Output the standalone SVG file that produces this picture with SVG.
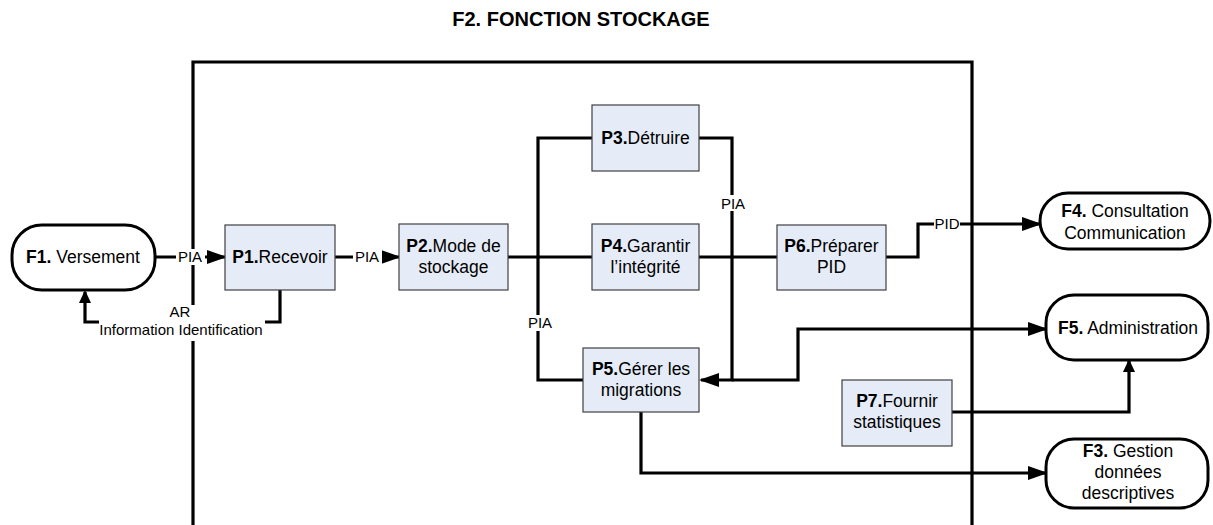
<svg xmlns="http://www.w3.org/2000/svg" width="1213" height="525" viewBox="0 0 1213 525">
<style>
text{font-family:"Liberation Sans",Arial,sans-serif;fill:#000}
.t{font-size:17.5px;text-anchor:middle}
.b{font-weight:bold}
.lbl{font-size:15px;text-anchor:middle}
.box{fill:#E6ECF7;stroke:#404040;stroke-width:1.2}
.pill{fill:#fff;stroke:#000;stroke-width:3}
.ln{fill:none;stroke:#000;stroke-width:3.2}
.bg{fill:#fff}
</style>
<defs>
<marker id="ah" viewBox="0 0 20 14" refX="18" refY="7" markerWidth="20" markerHeight="14" markerUnits="userSpaceOnUse" orient="auto">
<path d="M0,0 L20,7 L0,14 z" fill="#000"/>
</marker>
<marker id="ahs" viewBox="0 0 13 12" refX="11" refY="6" markerWidth="13" markerHeight="12" markerUnits="userSpaceOnUse" orient="auto">
<path d="M0,0 L13,6 L0,12 z" fill="#000"/>
</marker>
</defs>
<rect width="1213" height="525" fill="#fff"/>
<text x="581" y="26" class="b" style="font-size:20px;text-anchor:middle">F2. FONCTION STOCKAGE</text>
<g id="frame">
<path d="M193,525 V62 H972 V525" fill="none" stroke="#000" stroke-width="3.2"/>
</g>
<g id="connectors">
<path class="ln" d="M155,257 H225" marker-end="url(#ah)"/>
<path class="ln" d="M335,257 H399" marker-end="url(#ah)"/>
<path class="ln" d="M280,290 V322 H85 V292" marker-end="url(#ahs)"/>
<path class="ln" d="M508,257 H592"/>
<path class="ln" d="M699,257 H777"/>
<path class="ln" d="M592,138 H538 V380 H583"/>
<path class="ln" d="M699,138 H732 V380 H701" marker-end="url(#ah)"/>
<path class="ln" d="M732,380 H798 V329 H1046" marker-end="url(#ah)"/>
<path class="ln" d="M886,257 H918 V224 H1040" marker-end="url(#ah)"/>
<path class="ln" d="M641,412 V473 H1046" marker-end="url(#ah)"/>
<path class="ln" d="M952,412 H1129 V361" marker-end="url(#ahs)"/>
<rect class="bg" x="176" y="249" width="29" height="16"/>
<text class="lbl" x="190" y="262">PIA</text>
<rect class="bg" x="353" y="249" width="29" height="16"/>
<text class="lbl" x="367" y="262">PIA</text>
<rect class="bg" x="99" y="305" width="166" height="36"/>
<text class="lbl" x="180" y="317">AR</text>
<text class="lbl" x="181" y="335">Information Identification</text>
<rect class="bg" x="526" y="315" width="28" height="16"/>
<text class="lbl" x="540" y="328">PIA</text>
<rect class="bg" x="719" y="195" width="28" height="16"/>
<text class="lbl" x="733" y="209">PIA</text>
<rect class="bg" x="934" y="216" width="26" height="16"/>
<text class="lbl" x="947" y="229">PID</text>
</g>
<g id="F1">
<rect class="pill" x="12" y="225" width="143" height="65" rx="30"/>
<text class="t" x="83" y="263"><tspan class="b">F1.</tspan> Versement</text>
</g>
<g id="P1">
<rect class="box" x="225" y="225" width="110" height="65"/>
<text class="t" x="280" y="263"><tspan class="b">P1.</tspan>Recevoir</text>
</g>
<g id="P2">
<rect class="box" x="399" y="224" width="109" height="66"/>
<text class="t" x="453.5" y="252"><tspan class="b">P2.</tspan>Mode de</text>
<text class="t" x="453.5" y="273">stockage</text>
</g>
<g id="P3">
<rect class="box" x="592" y="105" width="107" height="66"/>
<text class="t" x="645.5" y="144"><tspan class="b">P3.</tspan>Détruire</text>
</g>
<g id="P4">
<rect class="box" x="592" y="224" width="107" height="66"/>
<text class="t" x="645.5" y="252"><tspan class="b">P4.</tspan>Garantir</text>
<text class="t" x="645.5" y="273">l’intégrité</text>
</g>
<g id="P6">
<rect class="box" x="777" y="225" width="109" height="65"/>
<text class="t" x="831.5" y="252"><tspan class="b">P6.</tspan>Préparer</text>
<text class="t" x="831.5" y="273">PID</text>
</g>
<g id="P5">
<rect class="box" x="583" y="348" width="116" height="64"/>
<text class="t" x="641" y="375"><tspan class="b">P5.</tspan>Gérer les</text>
<text class="t" x="641" y="396">migrations</text>
</g>
<g id="P7">
<rect class="box" x="842" y="380" width="110" height="66"/>
<text class="t" x="897" y="407"><tspan class="b">P7.</tspan>Fournir</text>
<text class="t" x="897" y="428">statistiques</text>
</g>
<g id="F4">
<rect class="pill" x="1040" y="193" width="170" height="56" rx="28"/>
<text class="t" x="1125" y="217"><tspan class="b">F4.</tspan> Consultation</text>
<text class="t" x="1125" y="239">Communication</text>
</g>
<g id="F5">
<rect class="pill" x="1046" y="295" width="162" height="65" rx="28"/>
<text class="t" x="1128" y="334"><tspan class="b">F5.</tspan> Administration</text>
</g>
<g id="F3">
<rect class="pill" x="1046" y="439" width="162" height="69" rx="28"/>
<text class="t" x="1128" y="457"><tspan class="b">F3.</tspan> Gestion</text>
<text class="t" x="1128" y="478">données</text>
<text class="t" x="1128" y="499">descriptives</text>
</g>
</svg>
